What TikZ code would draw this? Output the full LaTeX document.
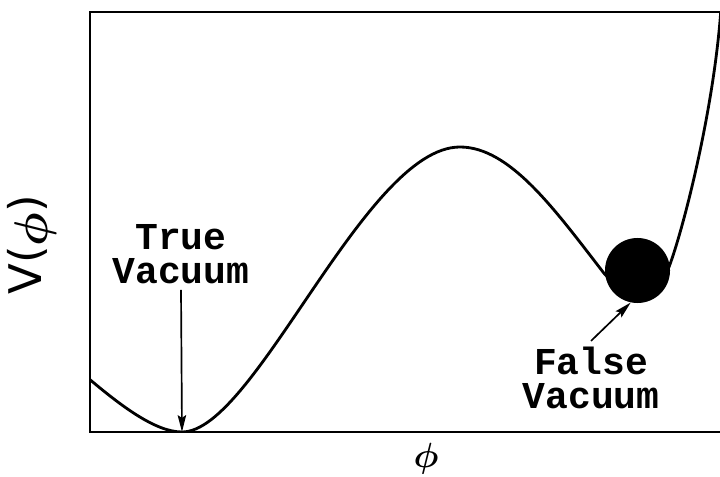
\documentclass[tikz,border=0pt]{standalone}
\usepackage{fontspec}
\usepackage{bm}
\usepackage{graphicx}
\setmainfont{DejaVu Sans}
\setmonofont{Liberation Mono}
\usetikzlibrary{arrows.meta}
\tikzset{
  vaclabel/.style={font=\ttfamily\bfseries\fontsize{27}{24.5}\selectfont, align=center, inner sep=4pt},
  vacarrow/.style={line width=1.2pt, -{Stealth[length=12pt,width=6pt,inset=2pt]}},
}
\begin{document}
\begin{tikzpicture}[x=0.025cm,y=-0.025cm]
  \useasboundingbox (0,0) rectangle (720,477);
  % frame (right side falls off the page)
  \draw[line width=2.1pt] (722,12) -- (90,12) -- (90,432) -- (722,432);
  % the potential
  \begin{scope}
    \clip (90,12) rectangle (720,432);
    \draw[line width=2pt] (88,378) .. controls (120,405) and (155,432) .. (182,432)
      .. controls (255,432) and (365,147) .. (460,147)
      .. controls (510,147) and (555,210) .. (603,272)
      .. controls (622,297) and (660,290) .. (669,267)
      .. controls (683,230) and (714,110) .. (721,8);
  \end{scope}
  \coordinate (truemin) at (182,432);
  \node[circle, fill=black, inner sep=0pt, minimum size=1.625cm] (ball) at (637.5,270.5) {};
  % labels
  \node[vaclabel] (truelbl) at (181,254) {True\\Vacuum};
  \node[vaclabel] (falselbl) at (591,378) {False\\Vacuum};
  \draw[vacarrow] (truelbl.south) -- (truemin);
  \draw[vacarrow] (falselbl.north) -- (ball.258);
  % axes
  \node[rotate=90, font=\fontsize{32}{36}\selectfont] (vlbl) at (32,245) {V(\raisebox{-0.12em}{\scalebox{1.35}{$\bm{\phi}$}})};
  \node[font=\fontsize{34}{36}\selectfont] (philbl) at (426,459) {$\bm{\phi}$};
\end{tikzpicture}
\end{document}
